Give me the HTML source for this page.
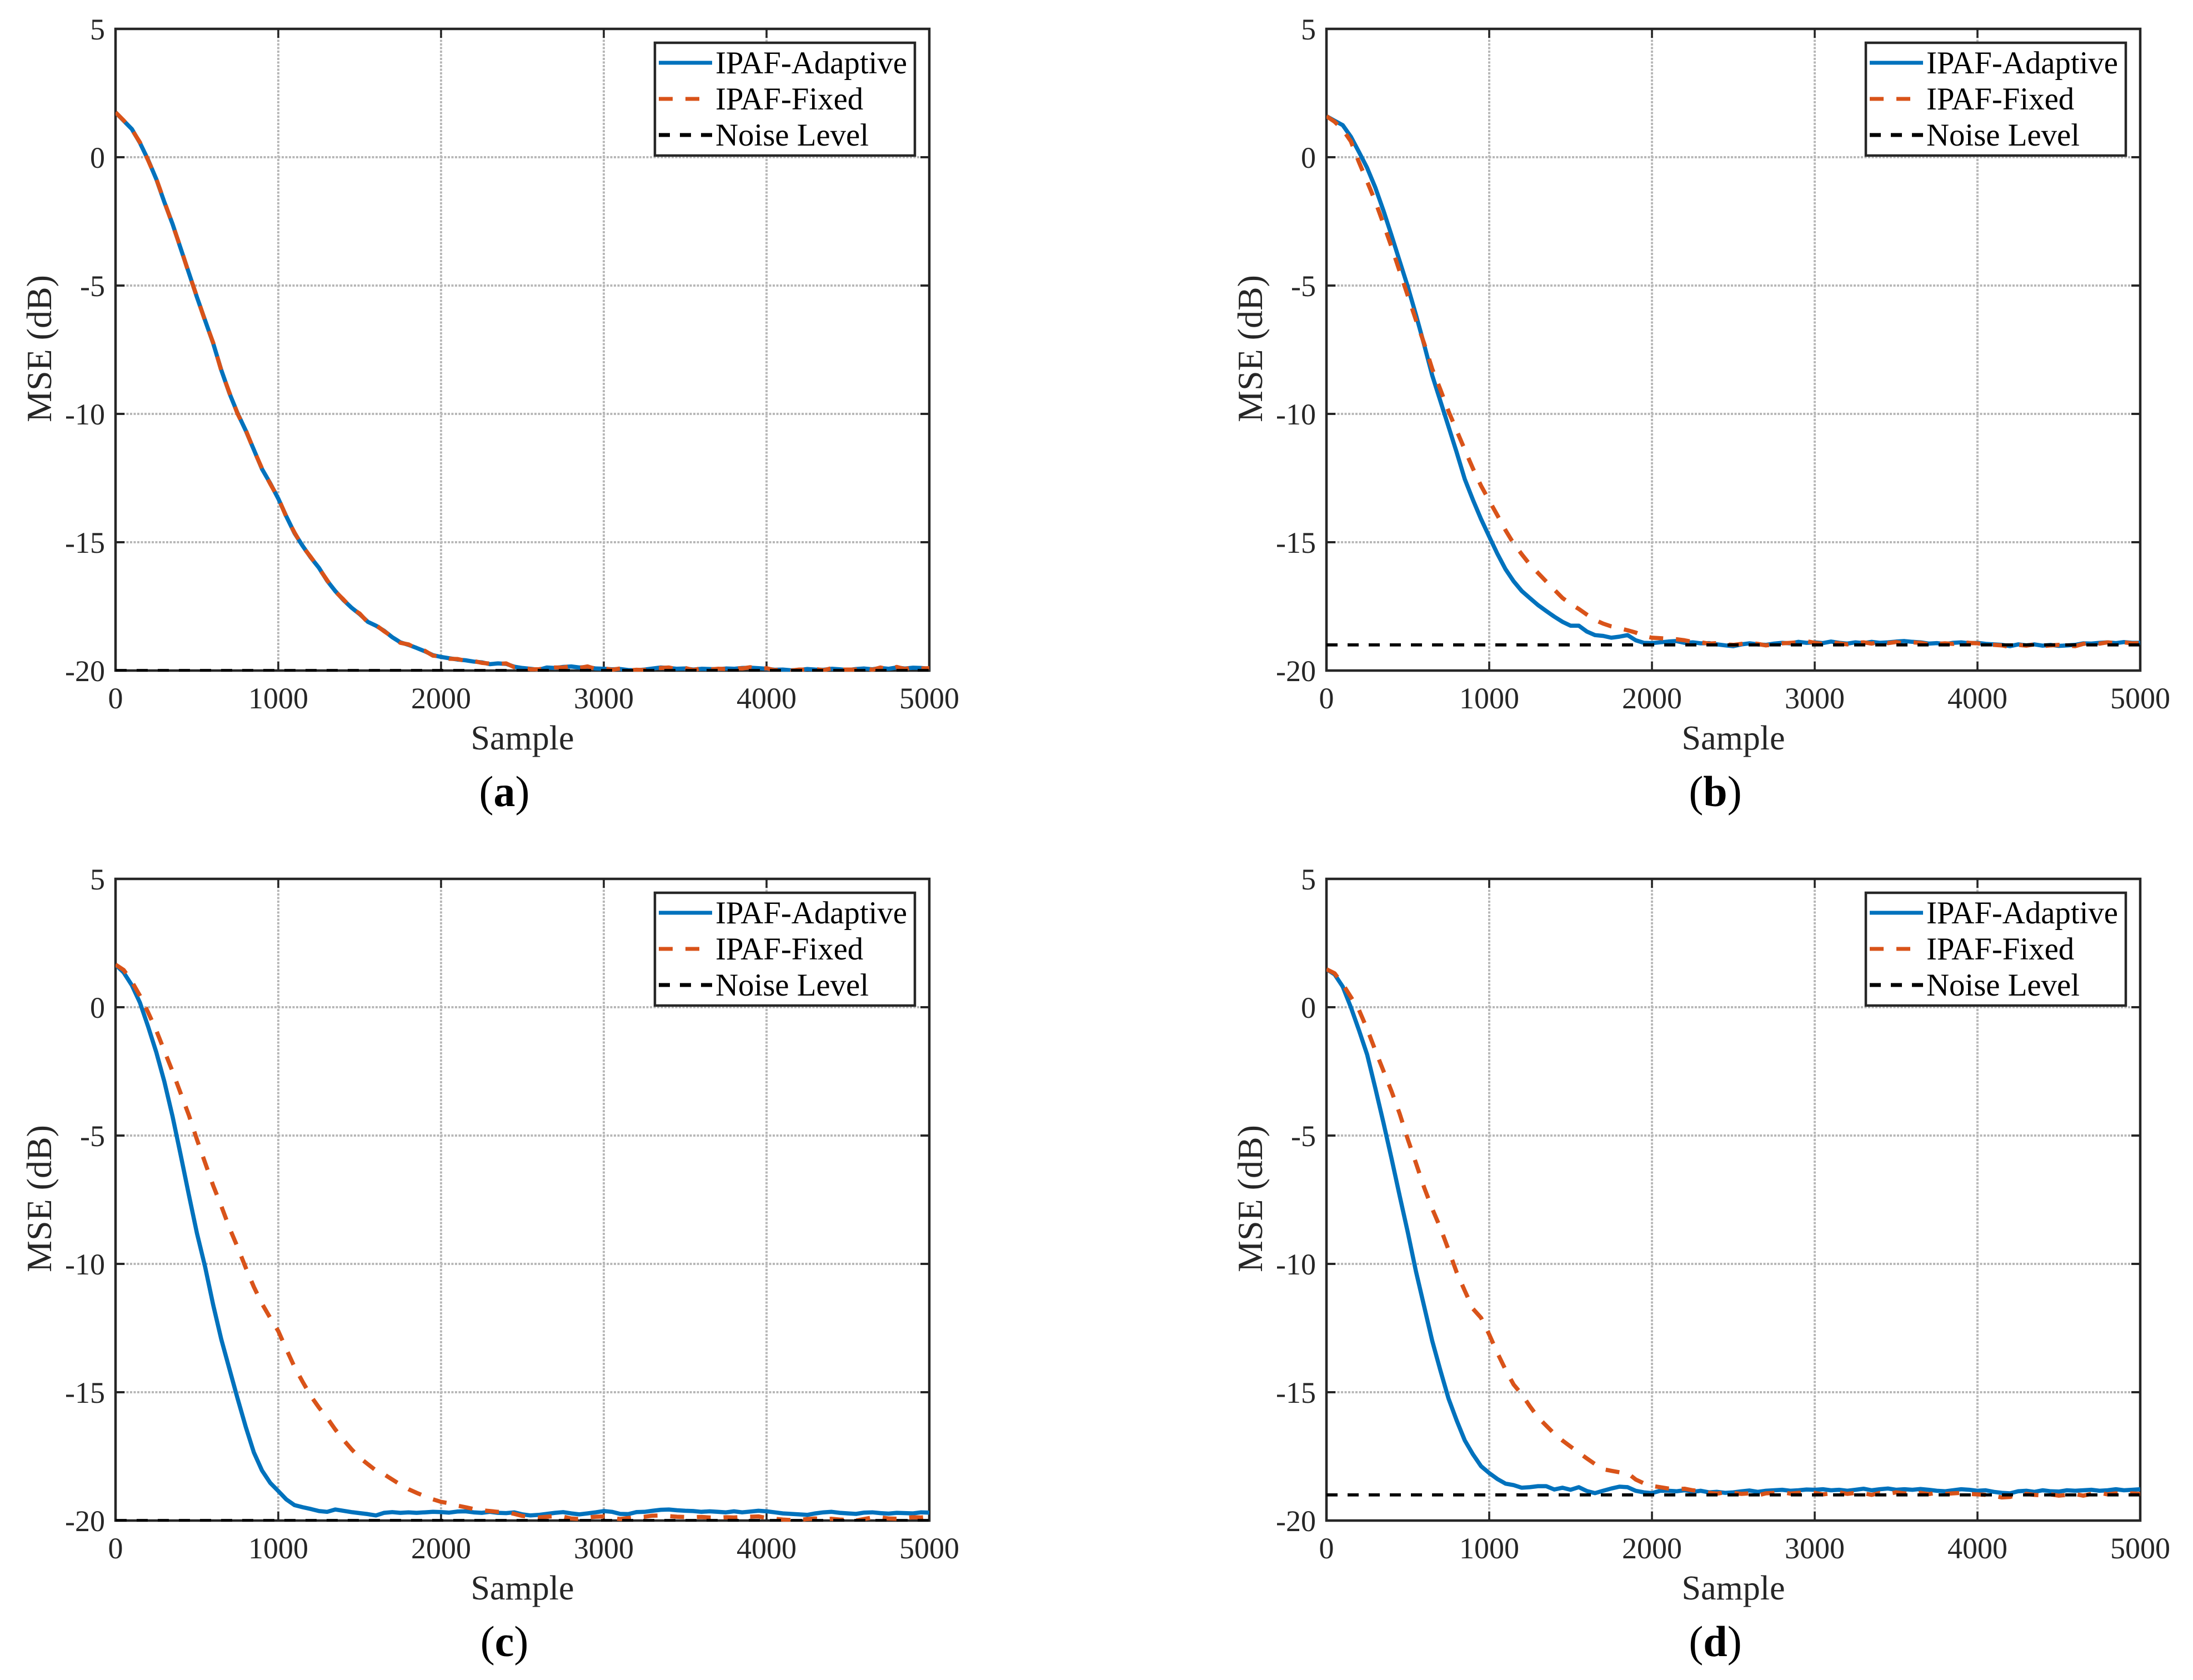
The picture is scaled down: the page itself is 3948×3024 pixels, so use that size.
<!DOCTYPE html>
<html lang="en">
<head>
<meta charset="utf-8">
<title>MSE convergence curves</title>
<style>
html,body{margin:0;padding:0;background:#fff;}
svg{display:block;}
text{font-family:"Liberation Serif","Times New Roman",serif;}
</style>
</head>
<body>
<svg id="figure" xmlns="http://www.w3.org/2000/svg" width="3948" height="3024" viewBox="0 0 3948 3024"></svg>
<script>
const xTickValues = [0, 1000, 2000, 3000, 4000, 5000];
const yTickValues = [5, 0, -5, -10, -15, -20];
const seriesLabels = ["IPAF-Adaptive", "IPAF-Fixed", "Noise Level"];
const samples = [0,50,100,150,200,250,300,350,400,450,500,550,600,650,700,750,800,850,900,950,1000,1050,1100,1150,1200,1250,1300,1350,1400,1450,1500,1550,1600,1650,1700,1750,1800,1850,1900,1950,2000,2050,2100,2150,2200,2250,2300,2350,2400,2450,2500,2550,2600,2650,2700,2750,2800,2850,2900,2950,3000,3050,3100,3150,3200,3250,3300,3350,3400,3450,3500,3550,3600,3650,3700,3750,3800,3850,3900,3950,4000,4050,4100,4150,4200,4250,4300,4350,4400,4450,4500,4550,4600,4650,4700,4750,4800,4850,4900,4950,5000];
const noiseSamples = [0, 5000];

const adaptiveA = [1.75,1.42,1.1,.56,-.1,-.85,-1.75,-2.6,-3.55,-4.5,-5.45,-6.35,-7.25,-8.3,-9.2,-9.98,-10.65,-11.4,-12.15,-12.7,-13.3,-14,-14.65,-15.15,-15.6,-16,-16.5,-16.9,-17.25,-17.55,-17.8,-18.1,-18.25,-18.45,-18.7,-18.9,-19,-19.12,-19.25,-19.4,-19.47,-19.52,-19.57,-19.6,-19.65,-19.68,-19.75,-19.72,-19.74,-19.85,-19.9,-19.93,-19.97,-19.88,-19.9,-19.86,-19.84,-19.88,-19.86,-19.92,-19.93,-19.95,-19.94,-19.98,-19.99,-19.96,-19.92,-19.88,-19.9,-19.93,-19.92,-19.96,-19.93,-19.94,-19.95,-19.92,-19.93,-19.9,-19.89,-19.91,-19.93,-19.97,-19.96,-19.99,-19.98,-19.94,-19.96,-19.97,-19.93,-19.95,-19.98,-19.94,-19.92,-19.95,-19.9,-19.93,-19.88,-19.92,-19.89,-19.9,-19.93];
const fixedA = [1.75,1.43,1.08,.58,-.12,-.84,-1.73,-2.62,-3.53,-4.52,-5.43,-6.37,-7.23,-8.32,-9.18,-10,-10.63,-11.42,-12.13,-12.72,-13.28,-14.02,-14.63,-15.17,-15.58,-16.02,-16.48,-16.92,-17.23,-17.57,-17.78,-18.12,-18.23,-18.47,-18.68,-18.92,-18.98,-19.14,-19.23,-19.42,-19.45,-19.54,-19.55,-19.62,-19.63,-19.7,-19.73,-19.74,-19.72,-19.87,-19.88,-19.95,-19.95,-19.9,-19.88,-19.88,-19.82,-19.9,-19.84,-19.94,-19.91,-19.97,-19.92,-20,-19.97,-19.98,-19.9,-19.9,-19.88,-19.95,-19.9,-19.98,-19.91,-19.96,-19.93,-19.94,-19.91,-19.92,-19.87,-19.93,-19.91,-19.99,-19.94,-20,-19.96,-19.96,-19.94,-19.99,-19.91,-19.97,-19.96,-19.96,-19.9,-19.97,-19.88,-19.95,-19.86,-19.94,-19.87,-19.92,-19.91];
const noiseA = [-20, -20];

const adaptiveB = [1.6,1.42,1.25,.8,.2,-.42,-1.18,-2.08,-3.05,-4.05,-5.05,-6.15,-7.3,-8.5,-9.5,-10.5,-11.5,-12.55,-13.35,-14.1,-14.78,-15.45,-16.05,-16.52,-16.9,-17.18,-17.45,-17.68,-17.9,-18.1,-18.25,-18.25,-18.48,-18.62,-18.65,-18.72,-18.68,-18.62,-18.82,-18.92,-18.93,-18.9,-18.87,-18.85,-18.92,-18.9,-18.94,-18.93,-18.98,-19.02,-19.05,-18.98,-18.94,-18.98,-19,-18.95,-18.92,-18.94,-18.88,-18.92,-18.9,-18.93,-18.87,-18.92,-18.95,-18.9,-18.93,-18.88,-18.92,-18.9,-18.87,-18.85,-18.88,-18.9,-18.95,-18.93,-18.97,-18.92,-18.9,-18.94,-18.92,-18.96,-18.98,-19,-19.05,-18.98,-19.02,-18.98,-19.03,-19,-19.04,-19.02,-19,-18.94,-18.95,-18.92,-18.9,-18.93,-18.89,-18.92,-18.92];
const fixedB = [1.6,1.38,1.08,.62,-.2,-.95,-1.72,-2.6,-3.5,-4.45,-5.4,-6.35,-7.25,-8.25,-9.05,-9.9,-10.65,-11.4,-12.13,-12.8,-13.38,-13.95,-14.53,-15.05,-15.47,-15.87,-16.2,-16.53,-16.85,-17.17,-17.4,-17.6,-17.82,-18.03,-18.17,-18.28,-18.35,-18.43,-18.52,-18.65,-18.72,-18.74,-18.76,-18.78,-18.82,-18.88,-18.9,-18.95,-18.93,-18.98,-19,-18.96,-18.92,-18.96,-19.02,-18.98,-18.94,-18.92,-18.9,-18.86,-18.92,-18.96,-18.9,-18.94,-18.98,-18.92,-18.9,-18.95,-18.88,-18.93,-18.89,-18.94,-18.9,-18.92,-18.98,-18.96,-18.94,-18.96,-18.89,-18.92,-18.94,-18.98,-19,-19.02,-19.08,-19,-19.03,-18.98,-19.05,-19.02,-19,-19.03,-19.05,-18.96,-18.92,-18.95,-18.9,-18.94,-18.9,-18.94,-18.93];
const noiseB = [-19, -19];

const adaptiveC = [1.66,1.35,.86,.18,-.75,-1.75,-2.9,-4.25,-5.75,-7.3,-8.8,-10.1,-11.6,-12.95,-14.1,-15.25,-16.35,-17.35,-18.05,-18.53,-18.85,-19.18,-19.4,-19.48,-19.55,-19.63,-19.66,-19.57,-19.62,-19.67,-19.71,-19.75,-19.8,-19.7,-19.67,-19.7,-19.68,-19.7,-19.68,-19.66,-19.67,-19.69,-19.65,-19.64,-19.68,-19.7,-19.66,-19.7,-19.71,-19.68,-19.76,-19.8,-19.78,-19.74,-19.7,-19.67,-19.72,-19.76,-19.72,-19.68,-19.63,-19.66,-19.74,-19.75,-19.67,-19.66,-19.62,-19.58,-19.57,-19.6,-19.62,-19.63,-19.66,-19.64,-19.66,-19.68,-19.64,-19.68,-19.65,-19.62,-19.64,-19.68,-19.72,-19.74,-19.76,-19.78,-19.72,-19.68,-19.66,-19.7,-19.72,-19.74,-19.69,-19.68,-19.71,-19.73,-19.7,-19.71,-19.72,-19.68,-19.69];
const fixedC = [1.66,1.45,1,.45,-.2,-.9,-1.7,-2.5,-3.35,-4.2,-5.15,-6.05,-6.95,-7.75,-8.6,-9.35,-10.15,-10.9,-11.55,-12.1,-12.62,-13.33,-14.02,-14.6,-15.15,-15.6,-16,-16.45,-16.85,-17.22,-17.55,-17.8,-18.05,-18.2,-18.4,-18.6,-18.78,-18.92,-19.05,-19.17,-19.27,-19.33,-19.42,-19.48,-19.55,-19.6,-19.63,-19.66,-19.67,-19.74,-19.82,-19.86,-19.88,-19.85,-19.83,-19.85,-19.92,-19.94,-19.88,-19.85,-19.84,-19.9,-19.94,-19.9,-19.87,-19.85,-19.81,-19.8,-19.83,-19.85,-19.86,-19.87,-19.86,-19.88,-19.89,-19.87,-19.88,-19.86,-19.85,-19.84,-19.9,-19.93,-19.96,-19.98,-19.98,-19.94,-19.92,-19.95,-19.93,-19.96,-19.98,-20,-19.94,-19.88,-19.87,-19.92,-19.93,-19.9,-19.87,-19.88,-19.85];
const noiseC = [-20, -20];

const adaptiveD = [1.48,1.28,.8,0,-.9,-1.85,-3.15,-4.5,-5.9,-7.35,-8.78,-10.3,-11.65,-13,-14.15,-15.25,-16.1,-16.88,-17.42,-17.88,-18.15,-18.38,-18.56,-18.62,-18.72,-18.7,-18.66,-18.66,-18.79,-18.72,-18.8,-18.7,-18.85,-18.93,-18.84,-18.75,-18.68,-18.7,-18.84,-18.9,-18.93,-18.84,-18.84,-18.86,-18.82,-18.88,-18.84,-18.9,-18.88,-18.92,-18.9,-18.86,-18.83,-18.88,-18.84,-18.82,-18.8,-18.84,-18.82,-18.79,-18.8,-18.78,-18.82,-18.8,-18.84,-18.8,-18.76,-18.82,-18.78,-18.75,-18.8,-18.78,-18.8,-18.77,-18.8,-18.84,-18.86,-18.82,-18.78,-18.8,-18.84,-18.82,-18.88,-18.92,-18.94,-18.86,-18.84,-18.88,-18.82,-18.86,-18.87,-18.82,-18.84,-18.82,-18.8,-18.84,-18.82,-18.78,-18.82,-18.8,-18.78];
const fixedD = [1.48,1.32,.9,.4,-.11,-.85,-1.68,-2.48,-3.28,-4.15,-5.15,-6.08,-7.02,-7.85,-8.6,-9.45,-10.33,-11.05,-11.75,-12.1,-12.75,-13.47,-14.12,-14.7,-15.08,-15.55,-15.98,-16.3,-16.62,-16.88,-17.12,-17.35,-17.58,-17.8,-18,-18.06,-18.12,-18.15,-18.4,-18.55,-18.65,-18.7,-18.75,-18.78,-18.76,-18.82,-18.86,-18.92,-18.95,-18.9,-18.92,-18.96,-18.94,-19.02,-18.94,-18.92,-18.9,-18.95,-18.92,-18.9,-18.92,-18.98,-18.94,-18.9,-18.96,-18.92,-18.94,-19,-18.92,-18.96,-18.9,-18.94,-18.98,-18.92,-18.97,-18.92,-18.96,-18.94,-18.92,-18.96,-18.98,-19,-19.04,-19.1,-19.08,-18.98,-18.96,-19,-19.02,-18.98,-19.03,-19,-18.97,-19.03,-18.96,-18.92,-18.98,-18.94,-18.98,-18.94,-18.96];
const noiseD = [-19, -19];

const panels = [
  {key:"a", left:208,  top:52,   adaptive:adaptiveA, fixed:fixedA, noise:noiseA},
  {key:"b", left:2388, top:52,   adaptive:adaptiveB, fixed:fixedB, noise:noiseB},
  {key:"c", left:208,  top:1582, adaptive:adaptiveC, fixed:fixedC, noise:noiseC},
  {key:"d", left:2388, top:1582, adaptive:adaptiveD, fixed:fixedD, noise:noiseD}
];

const PLOT_W = 1465, PLOT_H = 1155;
const AXIS = "#262626", GRID = "#b8b8b8", BLUE = "#0072BD", ORANGE = "#D95319";
const NS = "http://www.w3.org/2000/svg";
const figure = document.getElementById("figure");

function mk(parent, tag, attrs, txt) {
  const el = document.createElementNS(NS, tag);
  for (const k in attrs) el.setAttribute(k, attrs[k]);
  if (txt !== undefined) el.textContent = txt;
  parent.appendChild(el);
  return el;
}
function pathFrom(xs, ys, sx, sy) {
  let d = "";
  for (let i = 0; i < xs.length && i < ys.length; i++) {
    d += (i ? "L" : "M") + sx(xs[i]).toFixed(1) + " " + sy(ys[i]).toFixed(1);
  }
  return d;
}

panels.forEach(function (p) {
  const sx = function (v) { return p.left + v / 5000 * PLOT_W; };
  const sy = function (v) { return p.top + (5 - v) / 25 * PLOT_H; };
  const right = p.left + PLOT_W, bottom = p.top + PLOT_H;

  const g = mk(figure, "g", {});
  
  

  const clip = mk(g, "clipPath", {id: "clip-" + p.key});
  mk(clip, "rect", {x: p.left, y: p.top, width: PLOT_W, height: PLOT_H + 2});

  xTickValues.forEach(function (v) {
    if (v > 0 && v < 5000) {
      const gl = mk(g, "line", {x1: sx(v), x2: sx(v), y1: p.top, y2: bottom, stroke: GRID, "stroke-width": 4, "stroke-dasharray": "4 2.5"});
      
      
    }
  });
  yTickValues.forEach(function (v) {
    if (v > -20 && v < 5) {
      const gl = mk(g, "line", {x1: p.left, x2: right, y1: sy(v), y2: sy(v), stroke: GRID, "stroke-width": 4, "stroke-dasharray": "4 2.5"});
      
      
    }
  });

  xTickValues.forEach(function (v) {
    if (v > 0 && v < 5000) {
      const t1 = mk(g, "line", {x1: sx(v), x2: sx(v), y1: bottom, y2: bottom - 16, stroke: AXIS, "stroke-width": 3.5});
      
      
      const t2 = mk(g, "line", {x1: sx(v), x2: sx(v), y1: p.top, y2: p.top + 16, stroke: AXIS, "stroke-width": 3.5});
      
      
    }
    const lbl = mk(g, "text", {x: sx(v), y: bottom + 68, "font-size": 54, "text-anchor": "middle", fill: AXIS}, String(v));
    
    
  });
  yTickValues.forEach(function (v) {
    if (v > -20 && v < 5) {
      const t1 = mk(g, "line", {x1: p.left, x2: p.left + 16, y1: sy(v), y2: sy(v), stroke: AXIS, "stroke-width": 4});
      
      
      const t2 = mk(g, "line", {x1: right, x2: right - 16, y1: sy(v), y2: sy(v), stroke: AXIS, "stroke-width": 4});
      
      
    }
    const lbl = mk(g, "text", {x: p.left - 19, y: sy(v) + 19, "font-size": 54, "text-anchor": "end", fill: AXIS}, String(v));
    
    
  });

  const box = mk(g, "rect", {x: p.left, y: p.top, width: PLOT_W, height: PLOT_H, fill: "none", stroke: AXIS, "stroke-width": 4.5});
  
  

  const lines = mk(g, "g", {"clip-path": "url(#clip-" + p.key + ")", fill: "none", "stroke-linejoin": "round"});
  
  

  const blue = mk(lines, "path", {d: pathFrom(samples, p.adaptive, sx, sy), stroke: BLUE, "stroke-width": 7.5});
  
  

  const orange = mk(lines, "path", {d: pathFrom(samples, p.fixed, sx, sy), stroke: ORANGE, "stroke-width": 7.5, "stroke-dasharray": "25 23"});
  
  

  const noise = mk(lines, "path", {d: pathFrom(noiseSamples, p.noise, sx, sy), stroke: "#000", "stroke-width": 5.7, "stroke-dasharray": "20 18"});
  
  

  const xt = mk(g, "text", {x: p.left + PLOT_W / 2, y: bottom + 142, "font-size": 62, "text-anchor": "middle", fill: AXIS}, "Sample");
  
  

  const yt = mk(g, "text", {x: 0, y: 0, transform: "translate(" + (p.left - 116) + " " + (p.top + PLOT_H / 2 - 2) + ") rotate(-90)", "font-size": 64, "text-anchor": "middle", fill: AXIS}, "MSE (dB)");
  
  

  const cap = mk(g, "text", {x: p.left + 700, y: bottom + 244, "font-size": 78, "text-anchor": "middle", fill: "#000"});
  
  
  mk(cap, "tspan", {}, "(");
  mk(cap, "tspan", {"font-weight": "bold"}, p.key);
  mk(cap, "tspan", {}, ")");

  const lg = mk(g, "g", {transform: "translate(" + p.left + " " + p.top + ")"});
  
  

  const lgBox = mk(lg, "rect", {x: 971, y: 25, width: 468, height: 203, fill: "#fff", stroke: AXIS, "stroke-width": 4.5});
  
  

  const k1 = mk(lg, "line", {x1: 978, x2: 1074, y1: 61, y2: 61, stroke: BLUE, "stroke-width": 7});
  
  
  const k2 = mk(lg, "line", {x1: 978, x2: 1074, y1: 126, y2: 126, stroke: ORANGE, "stroke-width": 7, "stroke-dasharray": "25 23"});
  
  
  const k3 = mk(lg, "line", {x1: 978, x2: 1074, y1: 191, y2: 191, stroke: "#000", "stroke-width": 7, "stroke-dasharray": "20 18"});
  
  

  const t1 = mk(lg, "text", {x: 1080, y: 80, "font-size": 56.8, fill: "#000"}, seriesLabels[0]);
  
  
  const t2 = mk(lg, "text", {x: 1080, y: 145, "font-size": 56.8, fill: "#000"}, seriesLabels[1]);
  
  
  const t3 = mk(lg, "text", {x: 1080, y: 210, "font-size": 56.8, fill: "#000"}, seriesLabels[2]);
  
  
});
</script>
</body>
</html>
